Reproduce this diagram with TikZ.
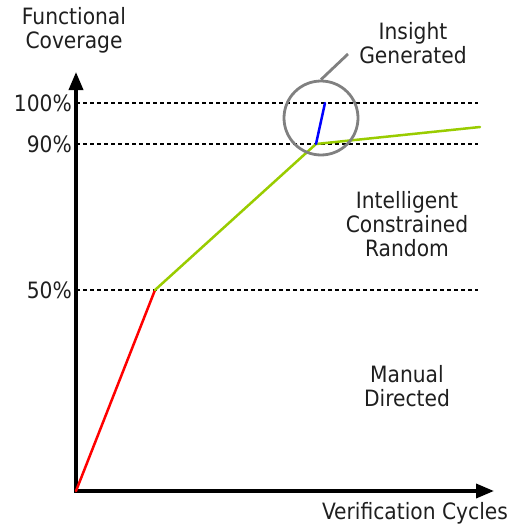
\documentclass[tikz,border=0pt]{standalone}
\usepackage{fontspec}
\setmainfont{DejaVu Sans Condensed}
\usepackage{tikz}
\usetikzlibrary{arrows.meta,calc,positioning,shapes}
\definecolor{LimeLine}{HTML}{99CC00}
\definecolor{RingGray}{HTML}{808080}
\newcommand{\coveragelevel}[3]{%
    \coordinate (#1) at (76, #2);
    \coordinate (#1end) at (478, #2);
    \draw[levelline] (#1) -- (#1end);
    \node[levellabel, left=4pt of #1] (#1label) {#3};
}

\begin{document}
\begin{tikzpicture}[
            x=1pt, y=-1pt,
            font=\fontsize{22.5}{24}\selectfont,
            axis/.style = {line width=3.5pt,
                -{Triangle[length=18pt, width=14pt]},
            },
            levelline/.style = {line width=2.6pt,
                dash pattern=on 4pt off 3pt,
            },
            levellabel/.style = {inner sep=0pt, anchor=east, text=black!88},
            textlabel/.style = {align=center, inner sep=0pt, text=black!88},
            curve/.style = {line width=2.5pt, line cap=round},
            ring/.style = {circle, draw=RingGray, line width=2.8pt,
                minimum size=74pt, inner sep=0pt,
            },
        ]
            \useasboundingbox (0,0) rectangle (520,525);
            \coordinate (origin) at (76, 491);
            \coordinate (ytop) at (76, 72);
            \coordinate (xend) at (494, 491);

            \coveragelevel{full}{103}{100\%}
            \coveragelevel{high}{144}{90\%}
            \coveragelevel{half}{290}{50\%}

            \draw[axis] ($(origin) + (0, 1.75)$) -- (ytop);
            \draw[axis] ($(origin) + (-1.75, 0)$) -- (xend);

            % coverage curve
            \coordinate (kneelow) at (155, 290);
            \coordinate (kneehigh) at (316, 144);
            \coordinate (tail) at (480, 127);
            \coordinate (jump) at (325, 103);
            \draw[curve, red] (origin) -- (kneelow);
            \draw[curve, LimeLine] (kneelow) -- (kneehigh) -- (tail);
            \draw[curve, blue] (kneehigh) -- (jump);

            % insight marker
            \node[ring] (ring) at (321, 118) {};
            \coordinate (pointer) at (348, 54);
            \draw[RingGray, line width=2.8pt] (ring.north) -- (pointer);

            \node[textlabel] (insight) at (413, 43) {Insight\\Generated};
            \node[textlabel] (ylabel) at (74, 30) {Functional\\Coverage};
            \node[textlabel] (xlabel) at (415, 513) {Verification Cycles};
            \node[textlabel] (random) at (407, 224) {Intelligent\\Constrained\\Random};
            \node[textlabel] (manual) at (407, 386) {Manual\\Directed};
        \end{tikzpicture}
\end{document}
